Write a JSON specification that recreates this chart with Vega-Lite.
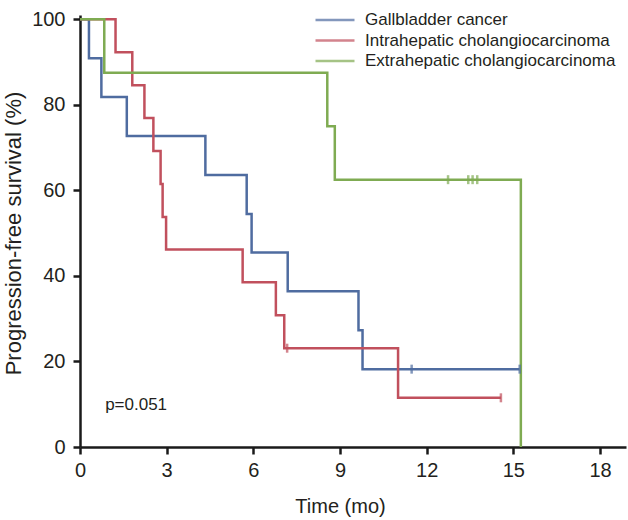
{
  "$schema": "https://vega.github.io/schema/vega-lite/v6.json",
  "width": 546,
  "height": 432,
  "autosize": {"type": "none"},
  "padding": {"left": 80, "top": 15, "right": 2, "bottom": 73},
  "background": "white",
  "config": {
    "view": {"stroke": null},
    "font": "Liberation Sans",
    "axis": {
      "grid": false,
      "domainColor": "#1a1a1a",
      "domainWidth": 2.5,
      "tickColor": "#1a1a1a",
      "tickWidth": 2.5,
      "tickSize": 7,
      "labelFont": "Liberation Sans",
      "labelFontSize": 20,
      "labelColor": "#231f20",
      "titleColor": "#231f20",
      "titleFontWeight": "normal"
    }
  },
  "datasets": {
    "km": [
      {"group": "Gallbladder cancer", "time": 0, "surv": 100, "kind": "step"},
      {"group": "Gallbladder cancer", "time": 0.31, "surv": 90.9, "kind": "step"},
      {"group": "Gallbladder cancer", "time": 0.74, "surv": 81.8, "kind": "step"},
      {"group": "Gallbladder cancer", "time": 1.62, "surv": 72.7, "kind": "step"},
      {"group": "Gallbladder cancer", "time": 4.34, "surv": 63.6, "kind": "step"},
      {"group": "Gallbladder cancer", "time": 5.77, "surv": 54.5, "kind": "step"},
      {"group": "Gallbladder cancer", "time": 5.94, "surv": 45.5, "kind": "step"},
      {"group": "Gallbladder cancer", "time": 7.19, "surv": 36.4, "kind": "step"},
      {"group": "Gallbladder cancer", "time": 9.64, "surv": 27.3, "kind": "step"},
      {"group": "Gallbladder cancer", "time": 9.78, "surv": 18.2, "kind": "step"},
      {"group": "Gallbladder cancer", "time": 15.22, "surv": 18.2, "kind": "step"},
      {"group": "Intrahepatic cholangiocarcinoma", "time": 0, "surv": 100, "kind": "step"},
      {"group": "Intrahepatic cholangiocarcinoma", "time": 1.23, "surv": 92.3, "kind": "step"},
      {"group": "Intrahepatic cholangiocarcinoma", "time": 1.81, "surv": 84.6, "kind": "step"},
      {"group": "Intrahepatic cholangiocarcinoma", "time": 2.23, "surv": 76.9, "kind": "step"},
      {"group": "Intrahepatic cholangiocarcinoma", "time": 2.54, "surv": 69.2, "kind": "step"},
      {"group": "Intrahepatic cholangiocarcinoma", "time": 2.79, "surv": 61.5, "kind": "step"},
      {"group": "Intrahepatic cholangiocarcinoma", "time": 2.86, "surv": 53.8, "kind": "step"},
      {"group": "Intrahepatic cholangiocarcinoma", "time": 2.98, "surv": 46.2, "kind": "step"},
      {"group": "Intrahepatic cholangiocarcinoma", "time": 5.63, "surv": 38.5, "kind": "step"},
      {"group": "Intrahepatic cholangiocarcinoma", "time": 6.78, "surv": 30.8, "kind": "step"},
      {"group": "Intrahepatic cholangiocarcinoma", "time": 7.07, "surv": 23.1, "kind": "step"},
      {"group": "Intrahepatic cholangiocarcinoma", "time": 11.01, "surv": 11.5, "kind": "step"},
      {"group": "Intrahepatic cholangiocarcinoma", "time": 14.57, "surv": 11.5, "kind": "step"},
      {"group": "Extrahepatic cholangiocarcinoma", "time": 0, "surv": 100, "kind": "step"},
      {"group": "Extrahepatic cholangiocarcinoma", "time": 0.84, "surv": 87.5, "kind": "step"},
      {"group": "Extrahepatic cholangiocarcinoma", "time": 8.56, "surv": 75, "kind": "step"},
      {"group": "Extrahepatic cholangiocarcinoma", "time": 8.82, "surv": 62.5, "kind": "step"},
      {"group": "Extrahepatic cholangiocarcinoma", "time": 15.26, "surv": 0, "kind": "step"},
      {"group": "Gallbladder cancer", "time": 11.48, "surv": 18.2, "kind": "censor"},
      {"group": "Gallbladder cancer", "time": 15.22, "surv": 18.2, "kind": "censor"},
      {"group": "Intrahepatic cholangiocarcinoma", "time": 7.17, "surv": 23.1, "kind": "censor"},
      {"group": "Intrahepatic cholangiocarcinoma", "time": 14.57, "surv": 11.5, "kind": "censor"},
      {"group": "Extrahepatic cholangiocarcinoma", "time": 12.74, "surv": 62.5, "kind": "censor"},
      {"group": "Extrahepatic cholangiocarcinoma", "time": 13.44, "surv": 62.5, "kind": "censor"},
      {"group": "Extrahepatic cholangiocarcinoma", "time": 13.59, "surv": 62.5, "kind": "censor"},
      {"group": "Extrahepatic cholangiocarcinoma", "time": 13.75, "surv": 62.5, "kind": "censor"}
    ],
    "note": [{"label": "p=0.051", "time": 0.87, "surv": 9.8}]
  },
  "data": {"name": "km"},
  "encoding": {
    "x": {
      "field": "time",
      "type": "quantitative",
      "scale": {"domain": [0, 18.9], "nice": false, "zero": false},
      "axis": {
        "values": [0, 3, 6, 9, 12, 15, 18],
        "title": "Time (mo)",
        "titleFont": "Liberation Sans",
        "titleFontSize": 20,
        "titleX": 260,
        "titleY": 65,
        "titleAlign": "center",
        "titleBaseline": "alphabetic",
        "labelPadding": 6,
        "labelFlush": false
      }
    },
    "y": {
      "field": "surv",
      "type": "quantitative",
      "scale": {"domain": [0, 101], "nice": false},
      "axis": {
        "values": [0, 20, 40, 60, 80, 100],
        "title": "Progression-free survival (%)",
        "titleFont": "Liberation Sans",
        "titleFontSize": 22,
        "titleX": -60,
        "titleY": 218,
        "titleAlign": "center",
        "titleBaseline": "alphabetic",
        "labelPadding": 8,
        "labelFlush": false
      }
    },
    "color": {
      "field": "group",
      "type": "nominal",
      "scale": {
        "domain": ["Gallbladder cancer", "Intrahepatic cholangiocarcinoma", "Extrahepatic cholangiocarcinoma"],
        "range": ["#4f6ca0", "#c1505d", "#7fab52"]
      },
      "legend": {
        "title": null,
        "orient": "none",
        "legendX": 244,
        "legendY": -6,
        "symbolType": "M-2,0H2",
        "symbolSize": 380,
        "symbolStrokeWidth": 2.5,
        "symbolFillColor": "transparent",
        "labelFont": "Liberation Sans",
        "labelFontSize": 17,
        "labelColor": "#231f20",
        "labelOffset": 19,
        "rowPadding": 1.5,
        "labelLimit": 400
      }
    }
  },
  "layer": [
    {
      "transform": [{"filter": "datum.kind === 'step'"}],
      "mark": {"type": "line", "interpolate": "step-after", "strokeWidth": 2.5},
      "encoding": {"detail": {"field": "group"}}
    },
    {
      "transform": [{"filter": "datum.kind === 'censor'"}],
      "mark": {"type": "tick", "orient": "vertical", "size": 9, "thickness": 2.5}
    },
    {
      "data": {"name": "note"},
      "mark": {"type": "text", "align": "left", "baseline": "middle", "font": "Liberation Sans", "fontSize": 17, "color": "#231f20"},
      "encoding": {
        "x": {"field": "time", "type": "quantitative"},
        "y": {"field": "surv", "type": "quantitative"},
        "text": {"field": "label"},
        "color": {"value": "#231f20"}
      }
    }
  ]
}
